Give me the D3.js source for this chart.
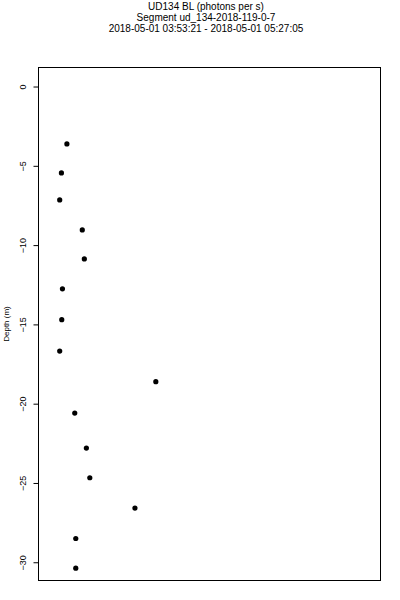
<!DOCTYPE html>
<html>
<head>
<meta charset="utf-8">
<script src="https://cdn.jsdelivr.net/npm/d3@7"></script>
<style>
  body { margin: 0; background: #fff; }
  text { font-family: "Liberation Sans", Arial, sans-serif; }
</style>
</head>
<body>
<script>
(function() {
    'use strict';

    // title lines
    var titleLines = [
        "UD134 BL (photons per s)",
        "Segment ud_134-2018-119-0-7",
        "2018-05-01 03:53:21 - 2018-05-01 05:27:05"
    ];

    // depth (m) and signal (photons per s, arbitrary scale)
    var depth = [-3.62, -5.45, -7.15, -9.04, -10.87, -12.76, -14.70, -16.68,
                 -18.61, -20.59, -22.80, -24.67, -26.58, -28.50, -30.37];
    var signal = [8.3, 6.7, 6.2, 12.8, 13.4, 7.0, 6.8, 6.2,
                  34.3, 10.6, 14.0, 15.0, 28.2, 10.9, 10.9];

    var yTicks = [0, -5, -10, -15, -20, -25, -30];

    var w = 400;
    var h = 600;
    var left = 38.5, right = 380.5, top = 67.5, bottom = 580.5;

    var svg = d3.select("body")
                .append("svg")
                .attr("width", w)
                .attr("height", h);

    var x = d3.scaleLinear().domain([0, 100]).range([left, right]);
    var y = d3.scaleLinear().domain([1.2, -31.15]).range([top, bottom]);

    // box
    svg.append("rect")
       .attr("x", left)
       .attr("y", top)
       .attr("width", right - left)
       .attr("height", bottom - top)
       .attr("fill", "none")
       .attr("stroke", "#000")
       .attr("stroke-width", 1);

    // y axis
    var yAxis = d3.axisLeft(y)
                  .tickValues(yTicks)
                  .tickSize(5)
                  .tickFormat(d3.format("d"));
    var gy = svg.append("g")
                .attr("transform", "translate(" + left + ",0)")
                .call(yAxis);
    gy.select(".domain").remove();
    gy.selectAll(".tick line").attr("stroke", "#000");
    gy.selectAll(".tick text")
      .attr("x", null)
      .attr("dy", null)
      .attr("text-anchor", "middle")
      .attr("transform", "translate(-13,0) rotate(-90)")
      .attr("font-size", "9px")
      .attr("font-family", "Liberation Sans, Arial, sans-serif")
      .attr("fill", "#000");

    // y label
    svg.append("text")
       .attr("transform", "translate(9," + ((top + bottom) / 2) + ") rotate(-90)")
       .attr("text-anchor", "middle")
       .attr("font-size", "8px")
       .text("Depth (m)");

    // title
    svg.selectAll(".title")
       .data(titleLines)
       .enter()
       .append("text")
       .attr("class", "title")
       .attr("x", 206)
       .attr("y", function(d, i) {
           return 10 + i * 11;
       })
       .attr("text-anchor", "middle")
       .attr("font-size", "10px")
       .text(function(d) {
           return d;
       });

    // points
    svg.selectAll("circle")
       .data(depth)
       .enter()
       .append("circle")
       .attr("cx", function(d, i) {
           return x(signal[i]);
       })
       .attr("cy", function(d) {
           return y(d);
       })
       .attr("r", 2.6)
       .attr("fill", "#000");
}());
</script>
</body>
</html>
